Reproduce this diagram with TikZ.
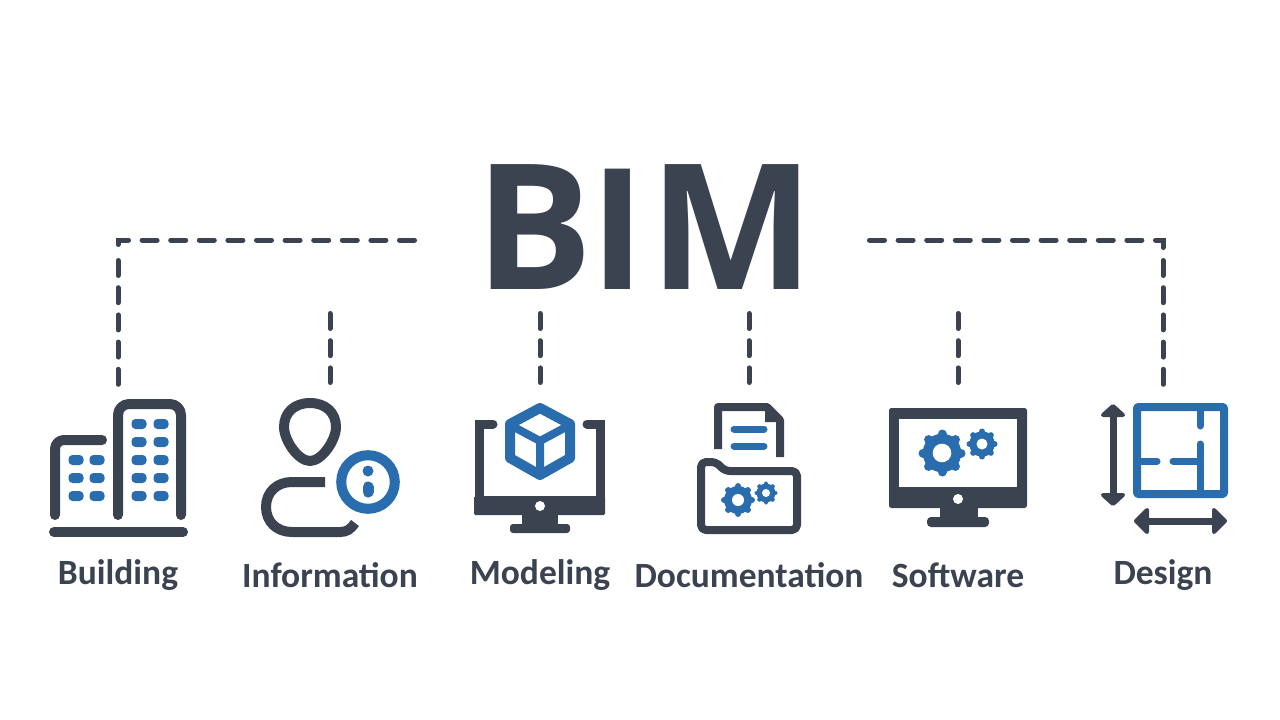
\documentclass[tikz,border=0pt]{standalone}
\usepackage{fontspec}
\setmainfont{Carlito}[BoldFont={Carlito Bold}]
\newfontfamily\bimfont{Open Sans}
\newfontfamily\bimstem{Liberation Sans}
\definecolor{ink}{HTML}{3B4351}
\definecolor{azure}{HTML}{2A6DAE}
\tikzset{
  ln/.style={draw=ink,line width=10pt,line cap=round,line join=round},
  bl/.style={draw=azure,line width=8pt,line cap=round,line join=round},
  win/.style={fill=azure,rounded corners=4pt},
  hdash/.style={draw=ink,line width=5pt,line cap=round,dash pattern=on 15pt off 13.6pt},
  vdash/.style={draw=ink,line width=5pt,line cap=round,dash pattern=on 15pt off 12.2pt},
  lab/.style={anchor=base,text=ink,font=\fontsize{35.5}{36}\selectfont\bfseries,inner sep=0pt},
}
\newcommand{\gearicon}[5]{% x y R r toothwidth
  \begin{scope}[shift={(#1,#2)}]
    \fill[azure] (0,0) circle[radius=#3*0.82];
    \foreach \a in {0,45,...,315}
      \draw[azure,line width=#5pt,line cap=round] (\a:#3*0.7) -- (\a:#3-#5/2);
    \fill[white] (0,0) circle[radius=#4];
  \end{scope}}
\begin{document}
\begin{tikzpicture}[x=1pt,y=-1pt]
\useasboundingbox (0,0) rectangle (1280,720);
\fill[white] (0,0) rectangle (1280,720);

% Title
\node[anchor=base,text=ink,inner sep=0pt,font=\bimfont\fontsize{175}{175}\selectfont\bfseries] (bim) at (645,289) {B\kern0pt{\bimstem I}\kern7ptM};

% Connectors
\coordinate (la) at (414.5,240); \coordinate (lb) at (118,240); \coordinate (lc) at (118,245);
\coordinate (ld) at (118,260.5); \coordinate (le) at (118,385);
\coordinate (ra) at (869.5,240); \coordinate (rb) at (1163,240); \coordinate (rc) at (1163,248);
\coordinate (rd) at (1163,260.5); \coordinate (re) at (1163,385);
\coordinate (i1) at (330,313.5); \coordinate (i2) at (330,382.5);
\coordinate (m1) at (540,313.5); \coordinate (m2) at (540,382.5);
\coordinate (d1) at (749,313.5); \coordinate (d2) at (749,382.5);
\coordinate (s1) at (958,313.5); \coordinate (s2) at (958,382.5);
\draw[hdash] (la) -- (lb) -- (lc);
\draw[vdash] (ld) -- (le);
\draw[hdash] (ra) -- (rb) -- (rc);
\draw[vdash] (rd) -- (re);
\draw[vdash] (i1) -- (i2);
\draw[vdash] (m1) -- (m2);
\draw[vdash] (d1) -- (d2);
\draw[vdash] (s1) -- (s2);

% Building
\draw[ln,rounded corners=9pt] (55,515) -- (55,440) -- (102,440);
\draw[ln,rounded corners=11pt] (118,515) -- (118,404) -- (181,404) -- (181,515);
\draw[ln,line width=10pt] (54,532) -- (183,532);
\foreach \x in {76,97} \foreach \y in {460,478,496}
  \fill[win] (\x-7.5,\y-5) rectangle (\x+7.5,\y+5);
\foreach \x in {139,161} \foreach \y in {424,442,460,478,496}
  \fill[win] (\x-7.5,\y-5) rectangle (\x+7.5,\y+5);

% Information
\draw[ln] (310,403) .. controls (326,403) and (336,413) .. (336,427)
  .. controls (336,440) and (322,461) .. (310,461)
  .. controls (298,461) and (284,440) .. (284,427)
  .. controls (284,413) and (294,403) .. (310,403) -- cycle;
\draw[draw=ink,line width=10pt,line join=round] (325,482) -- (292,482)
  .. controls (277,482) and (266,492) .. (266,507)
  .. controls (266,522) and (277,532) .. (292,532) -- (340,532)
  .. controls (347,532) and (351,529) .. (355,523);
\draw[bl,line width=10pt] (368,482) circle[radius=26.8];
\fill[azure] (368,471) circle[radius=5.5];
\draw[azure,line width=11pt,line cap=round] (368,487) -- (368,492);

% Modeling
\draw[draw=ink,line width=9pt,line cap=round,line join=miter] (493,424) -- (479,424) -- (479,505);
\draw[draw=ink,line width=9pt,line cap=round,line join=miter] (587,424) -- (600,424) -- (600,505);
\fill[ink,rounded corners=1.5pt] (474,496) rectangle (605,515);
\fill[ink] (522,514) rectangle (558,526);
\fill[ink,rounded corners=3pt] (510,524) rectangle (570,533);
\fill[white] (540,506) circle[radius=5];
\draw[bl,line width=10pt] (540,408) -- (570,424) -- (570,458) -- (540,475) -- (510,458) -- (510,424) -- cycle;
\draw[bl,line width=8pt] (512,426) -- (540,441) -- (568,426) (540,441) -- (540,475);

% Documentation
\draw[draw=ink,line width=8pt,line join=round] (718,449) -- (718,407) -- (767,407) -- (780,420) -- (780,457);
\fill[ink] (765,407) -- (782,422) -- (765,422) -- cycle;
\draw[draw=azure,line width=7pt,line cap=round] (734,429) -- (764,429) (734,446) -- (764,446);
\draw[ln,line width=8pt,rounded corners=5pt] (701,462) -- (716,462) -- (725,471) -- (797,471) -- (797,530) -- (701,530) -- cycle;
\gearicon{738}{500}{17}{6}{6.5}
\gearicon{766}{493}{11.5}{4}{4.5}

% Software
\fill[ink,rounded corners=2.5pt] (889,408) rectangle (1027,508);
\fill[white] (899,419) rectangle (1017,487);
\fill[white] (958,499) circle[radius=5];
\fill[ink] (940,507) rectangle (978,520);
\fill[ink,rounded corners=4pt] (927,517) rectangle (989,527);
\gearicon{942}{453}{23.5}{9.3}{9}
\gearicon{982}{444}{15.5}{5.5}{6}

% Design
\draw[bl,line width=8pt,line cap=butt,rounded corners=1pt] (1137,407) rectangle (1224,494);
\draw[bl,line width=7pt] (1200,408) -- (1200,426);
\draw[bl,line width=7pt] (1200,444) -- (1200,493);
\draw[bl,line width=7pt] (1138,461) -- (1157,461);
\draw[bl,line width=7pt] (1173,461) -- (1200,461);
\draw[ln,line width=7pt,line cap=butt] (1113,410) -- (1113,500);
\fill[ink,draw=ink,line width=4pt,line join=round] (1113,406) -- (1123,415) -- (1103,415) -- cycle;
\fill[ink,draw=ink,line width=4pt,line join=round] (1113,504) -- (1123,495) -- (1103,495) -- cycle;
\draw[ln,line width=7pt,line cap=butt] (1140,521) -- (1221,521);
\fill[ink,draw=ink,line width=4pt,line join=round] (1136,521) -- (1147,510) -- (1147,532) -- cycle;
\fill[ink,draw=ink,line width=4pt,line join=round] (1225,521) -- (1214,510) -- (1214,532) -- cycle;

% Labels
\node[lab] (tbuilding) at (118,584) {Building};
\node[lab] (tinfo) at (330,587) {Information};
\node[lab] (tmodel) at (540,584) {Modeling};
\node[lab] (tdoc) at (749,587) {Documentation};
\node[lab] (tsoft) at (958,587) {Software};
\node[lab] (tdesign) at (1163,584) {Design};
\end{tikzpicture}
\end{document}
